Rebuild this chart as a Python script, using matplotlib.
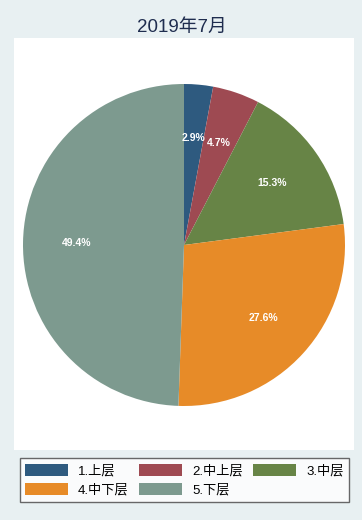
import matplotlib
matplotlib.use("Agg")
import matplotlib.pyplot as plt

plt.rcParams['font.family'] = ['Liberation Sans', 'Noto Sans CJK SC', 'DejaVu Sans']

title = "2019年7月"
categories = ["1.上层", "2.中上层", "3.中层", "4.中下层", "5.下层"]
values = [2.9, 4.7, 15.3, 27.6, 49.4]
colors = ["#2E5A7F", "#9E4A52", "#678446", "#E78B28", "#7D9A8F"]

W, H = 362, 520
fig = plt.figure(figsize=(W/100, H/100), dpi=100)
fig.patch.set_facecolor("#E8F0F2")

# white plot region
bg = fig.add_axes([14/W, 1-450/H, 340/W, 412/H], zorder=0)
bg.set_facecolor("white")
bg.set_xticks([]); bg.set_yticks([])
for s in bg.spines.values():
    s.set_visible(False)

cx, cy, r = 184, 245, 161
ax = fig.add_axes([(cx-r)/W, 1-(cy+r)/H, 2*r/W, 2*r/H], zorder=1)
ax.set_facecolor("none")
wedges, texts, autotexts = ax.pie(values, colors=colors, startangle=90, counterclock=False,
                                  autopct=lambda p: f"{p:.1f}%", pctdistance=0.67,
                                  radius=1, wedgeprops=dict(linewidth=0),
                                  textprops=dict(color="white", fontsize=7.5, fontweight="bold"))
ax.set_xlim(-1, 1)
ax.set_ylim(-1, 1)
ax.set_aspect("equal")
ax.axis("off")

fig.text(182/W, 1-27/H, title, ha="center", va="center", fontsize=13.5, color="#1F2D4F")

order = [0, 3, 1, 4, 2]
leg = fig.legend([wedges[i] for i in order], [categories[i] for i in order], ncol=3, loc="lower left",
                 bbox_to_anchor=(20/W, 1-502/H, 329/W, 47/H), mode="expand",
                 frameon=True, fancybox=False, edgecolor="#444444", facecolor="white",
                 fontsize=9.5, handlelength=3.2, handleheight=1.05, handletextpad=0.8,
                 borderaxespad=0, borderpad=0.4, labelspacing=0.45, columnspacing=1.5)
leg.get_frame().set_linewidth(1.0)

fig.savefig("out.png", dpi=100, facecolor=fig.get_facecolor())
